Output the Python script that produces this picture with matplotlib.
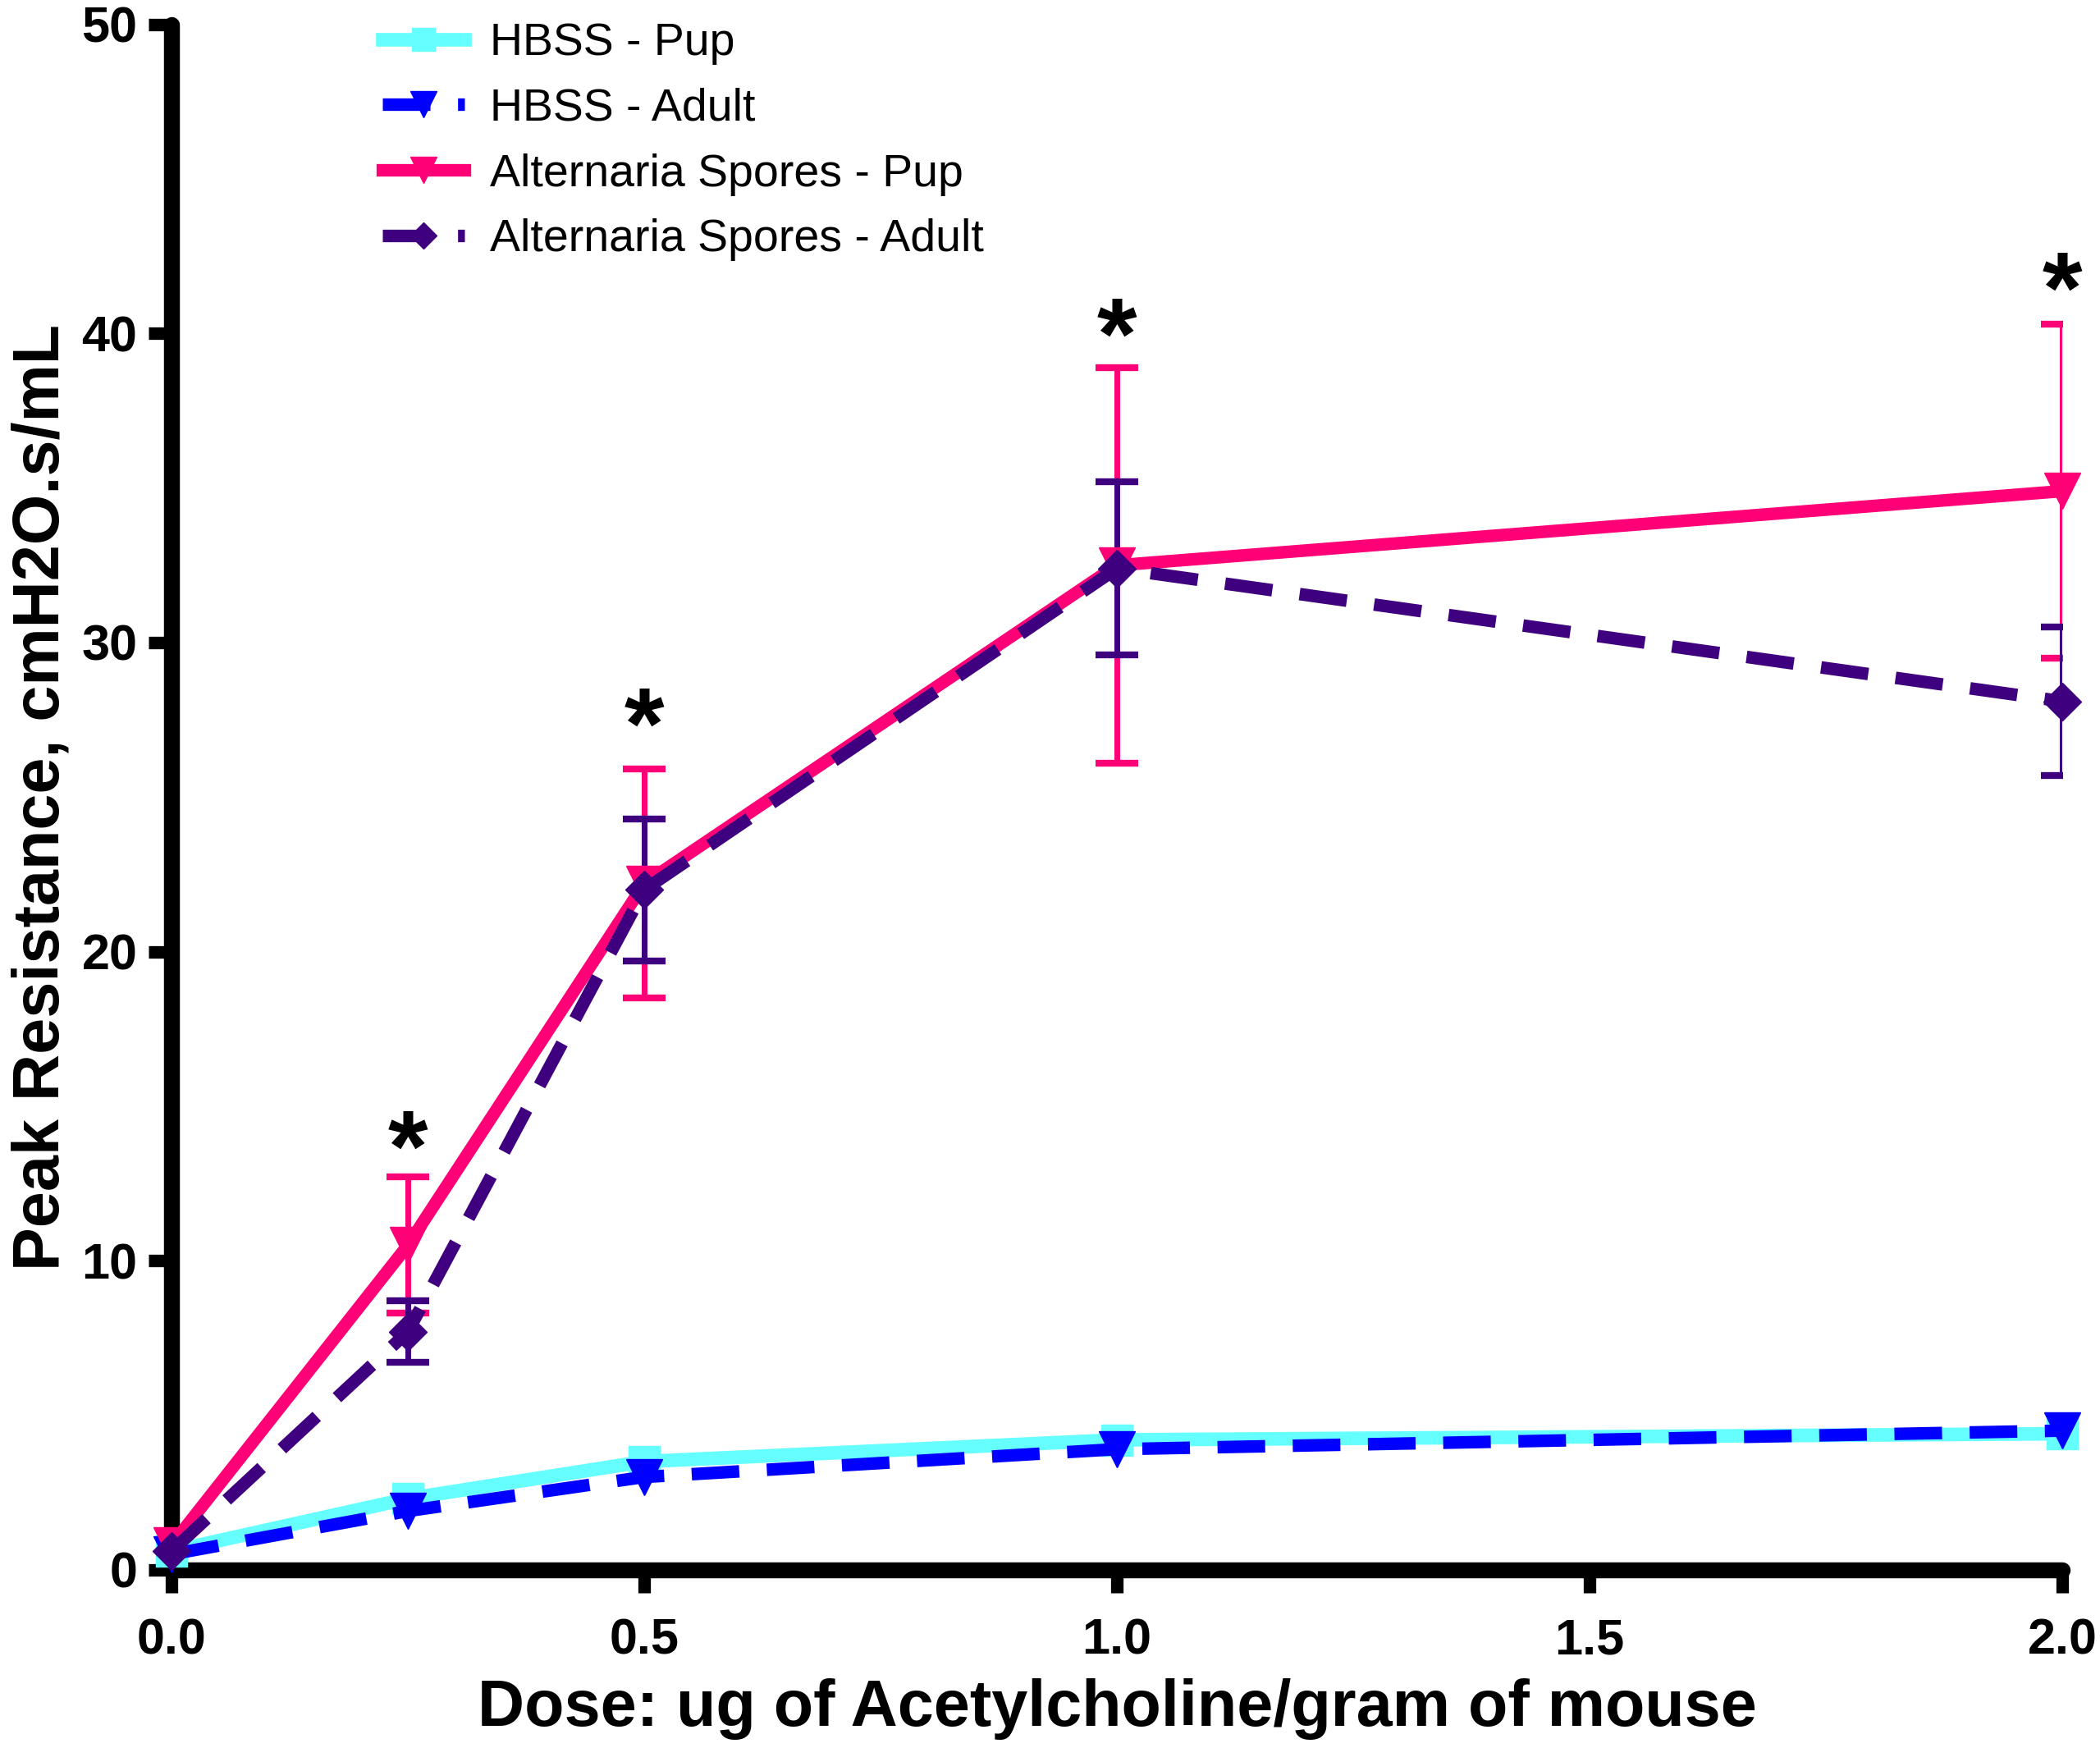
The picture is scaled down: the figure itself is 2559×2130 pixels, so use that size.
import matplotlib
matplotlib.use("Agg")
import matplotlib.pyplot as plt

plt.rcParams['font.family'] = ['Liberation Sans', 'DejaVu Sans']

dose = [0.0, 0.25, 0.5, 1.0, 2.0]

hbss_pup = [0.6, 2.3, 3.5, 4.2, 4.4]
hbss_adult = [0.5, 1.9, 3.0, 3.9, 4.5]
alt_pup = [0.8, 10.5, 22.2, 32.5, 34.9]
alt_pup_err = [0.0, 2.2, 3.7, 6.4, 5.4]
alt_adult = [0.6, 7.7, 22.0, 32.4, 28.1]
alt_adult_err = [0.0, 1.0, 2.3, 2.8, 2.4]

star_x = [0.25, 0.5, 1.0, 2.0]
star_y = [13.4, 27.1, 39.7, 41.2]

c_cyan = '#66FFFF'
c_blue = '#0000FF'
c_pink = '#FF0077'
c_purple = '#3F007F'

fig = plt.figure(figsize=(25.59, 21.30), dpi=100)
ax = fig.add_axes([0.0817, 0.102, 0.9003, 0.884])

# error bars (clipped at the right edge like the original)
ax.errorbar(dose, alt_pup, yerr=alt_pup_err, fmt='none', ecolor=c_pink,
            elinewidth=5, capsize=19, capthick=6, zorder=3)
ax.errorbar(dose, alt_adult, yerr=alt_adult_err, fmt='none', ecolor=c_purple,
            elinewidth=5, capsize=19, capthick=6, zorder=4)

ax.plot(dose, hbss_pup, color=c_cyan, lw=12, marker='s', ms=28,
        label='HBSS - Pup', clip_on=False, zorder=5)
ax.plot(dose, hbss_adult, color=c_blue, lw=11, marker='v', ms=32,
        dashes=(3.8, 2.2), label='HBSS - Adult', clip_on=False, zorder=6)
ax.plot(dose, alt_pup, color=c_pink, lw=11, marker='v', ms=32,
        label='Alternaria Spores - Pup', clip_on=False, zorder=7)
ax.plot(dose, alt_adult, color=c_purple, lw=11, marker='D', ms=23,
        dashes=(3.8, 2.2), label='Alternaria Spores - Adult', clip_on=False, zorder=8)

for x, y in zip(star_x, star_y):
    ax.text(x, y, '*', ha='center', va='center', fontsize=90,
            fontweight='bold', color='black')

ax.set_xlim(0, 2.0)
ax.set_ylim(0, 50)
ax.set_xticks([0.0, 0.5, 1.0, 1.5, 2.0])
ax.set_xticklabels(['0.0', '0.5', '1.0', '1.5', '2.0'])
ax.set_yticks([0, 10, 20, 30, 40, 50])

for s in ['top', 'right']:
    ax.spines[s].set_visible(False)
for s in ['left', 'bottom']:
    ax.spines[s].set_linewidth(14)
    ax.spines[s].set_capstyle('round')

ax.tick_params(axis='both', direction='out', length=20, width=11,
               labelsize=44, pad=10)
ax.tick_params(axis='x', pad=22)
for lab in ax.get_xticklabels() + ax.get_yticklabels():
    lab.set_fontweight('bold')

ax.set_xlabel('Dose: ug of Acetylcholine/gram of mouse', fontsize=57,
              fontweight='bold', labelpad=12)
ax.set_ylabel('Peak Resistance, cmH2O.s/mL', fontsize=57,
              fontweight='bold', labelpad=8)

ax.legend(loc='upper left', bbox_to_anchor=(0.09, 1.028), frameon=False,
          fontsize=40, handlelength=1.8, handletextpad=0.55, labelspacing=0.5,
          markerscale=0.7)

fig.savefig('out.png', dpi=100)
